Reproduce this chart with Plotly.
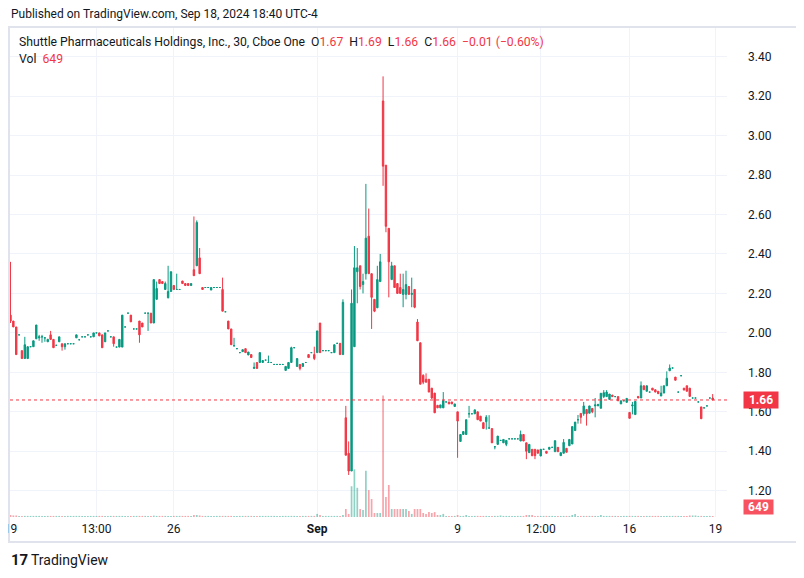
import plotly.graph_objects as go

# ---- data (SHPH, 30-min bars, Aug 19 - Sep 18 2024) ----
open_ = [
    2.09, 2.06, 2.03, 1.99, 1.91, 1.87, 1.87, 1.93, 1.93, 1.97,
    1.975, 1.98, 1.975, 1.955, 1.99, 1.967, 1.937, 1.955, 1.945, 1.93,
    1.945, 1.945, 1.945, 1.975, 1.965, 1.98, 1.98, 1.99, 1.98, 1.98,
    2.00, 2.00, 1.99, 1.955, 2.01, 1.98, 1.98, 1.928, 1.928, 1.928,
    2.03, 2.10, 2.09, 2.02, 2.02, 2.06, 2.05, 2.10, 2.10, 2.10,
    2.05, 2.17, 2.27, 2.26, 2.22, 2.178, 2.21, 2.24, 2.22, 2.22,
    2.263, 2.25, 2.25, 2.24, 2.32, 2.34, 2.38, 2.23, 2.23, 2.23,
    2.217, 2.23, 2.23, 2.23, 2.22, 2.107, 2.06, 2.02, 1.935, 1.92,
    1.90, 1.905, 1.92, 1.888, 1.89, 1.82, 1.85, 1.85, 1.85, 1.862,
    1.85, 1.85, 1.84, 1.84, 1.84, 1.84, 1.81, 1.82, 1.85, 1.925,
    1.83, 1.84, 1.83, 1.85, 1.89, 1.90, 1.89, 1.90, 2.05, 1.91,
    1.91, 1.91, 1.90, 1.90, 1.947, 1.947, 1.89, 1.57, 1.39, 1.30,
    1.93, 2.31, 2.34, 2.245, 2.30, 2.49, 2.30, 2.17, 2.127, 2.26,
    3.175, 2.85, 2.53, 2.27, 2.34, 2.25, 2.23, 2.195, 2.195, 2.235,
    2.195, 2.22, 2.055, 1.95, 1.785, 1.765, 1.765, 1.72, 1.695, 1.633,
    1.62, 1.62, 1.65, 1.65, 1.65, 1.627, 1.60, 1.45, 1.485, 1.485,
    1.59, 1.59, 1.59, 1.60, 1.578, 1.545, 1.55, 1.518, 1.515, 1.423,
    1.435, 1.455, 1.443, 1.435, 1.463, 1.463, 1.463, 1.463, 1.452, 1.485,
    1.443, 1.393, 1.41, 1.41, 1.407, 1.376, 1.41, 1.40, 1.41, 1.42,
    1.398, 1.42, 1.378, 1.39, 1.415, 1.428, 1.437, 1.505, 1.56, 1.592,
    1.59, 1.612, 1.593, 1.617, 1.63, 1.63, 1.618, 1.677, 1.677, 1.663,
    1.685, 1.677, 1.677, 1.64, 1.656, 1.648, 1.597, 1.63, 1.586, 1.678,
    1.67, 1.732, 1.704, 1.70, 1.72, 1.712, 1.704, 1.68, 1.695, 1.732,
    1.808, 1.822, 1.776, 1.70, 1.783, 1.72, 1.732, 1.72, 1.67, 1.67,
    1.65, 1.625, 1.62, 1.63, 1.67, 1.67,
]
high = [
    2.36, 2.06, 2.03, 1.99, 1.91, 1.98, 1.93, 1.93, 1.96, 2.04,
    1.99, 1.99, 1.975, 1.97, 2.01, 1.967, 1.937, 1.98, 1.945, 1.945,
    1.945, 1.945, 1.945, 1.99, 1.965, 1.98, 1.98, 1.99, 1.98, 2.00,
    2.00, 2.00, 1.99, 2.00, 2.01, 1.98, 1.98, 1.928, 1.967, 2.09,
    2.03, 2.10, 2.09, 2.02, 2.02, 2.06, 2.05, 2.10, 2.10, 2.10,
    2.27, 2.26, 2.27, 2.26, 2.26, 2.34, 2.31, 2.24, 2.30, 2.22,
    2.263, 2.25, 2.25, 2.25, 2.59, 2.57, 2.43, 2.23, 2.23, 2.23,
    2.23, 2.23, 2.23, 2.23, 2.28, 2.107, 2.06, 2.02, 1.975, 1.92,
    1.90, 1.915, 1.92, 1.903, 1.89, 1.85, 1.85, 1.90, 1.86, 1.862,
    1.885, 1.85, 1.84, 1.84, 1.84, 1.84, 1.83, 1.85, 1.93, 1.925,
    1.87, 1.84, 1.845, 1.85, 1.89, 1.90, 1.93, 2.01, 2.05, 1.91,
    1.91, 1.91, 1.90, 1.94, 1.947, 1.947, 2.17, 1.63, 1.45, 2.22,
    2.44, 2.43, 2.34, 2.30, 2.755, 2.63, 2.30, 2.17, 2.34, 2.40,
    3.30, 2.85, 2.53, 2.36, 2.34, 2.25, 2.30, 2.30, 2.315, 2.235,
    2.28, 2.22, 2.07, 1.95, 1.79, 1.795, 1.765, 1.72, 1.695, 1.633,
    1.635, 1.70, 1.65, 1.65, 1.65, 1.64, 1.60, 1.485, 1.50, 1.56,
    1.63, 1.59, 1.61, 1.60, 1.578, 1.545, 1.583, 1.583, 1.515, 1.423,
    1.477, 1.455, 1.46, 1.455, 1.463, 1.463, 1.463, 1.463, 1.505, 1.485,
    1.443, 1.435, 1.41, 1.41, 1.407, 1.41, 1.41, 1.40, 1.42, 1.42,
    1.454, 1.42, 1.393, 1.462, 1.415, 1.46, 1.525, 1.548, 1.584, 1.592,
    1.65, 1.612, 1.63, 1.618, 1.67, 1.638, 1.694, 1.71, 1.71, 1.69,
    1.685, 1.677, 1.677, 1.656, 1.656, 1.668, 1.597, 1.65, 1.653, 1.678,
    1.754, 1.732, 1.732, 1.70, 1.72, 1.712, 1.704, 1.732, 1.732, 1.805,
    1.84, 1.822, 1.776, 1.70, 1.783, 1.72, 1.732, 1.72, 1.67, 1.67,
    1.65, 1.625, 1.62, 1.63, 1.67, 1.69,
]
low = [
    2.05, 2.03, 1.89, 1.99, 1.87, 1.87, 1.87, 1.93, 1.93, 1.97,
    1.96, 1.95, 1.955, 1.955, 1.967, 1.925, 1.937, 1.955, 1.91, 1.915,
    1.945, 1.945, 1.945, 1.975, 1.965, 1.98, 1.98, 1.99, 1.98, 1.98,
    2.00, 1.985, 1.925, 1.955, 2.01, 1.98, 1.93, 1.928, 1.928, 1.928,
    2.03, 2.10, 2.056, 2.02, 2.02, 1.95, 2.03, 2.10, 2.01, 2.05,
    2.05, 2.17, 2.25, 2.25, 2.22, 2.175, 2.21, 2.22, 2.22, 2.22,
    2.25, 2.24, 2.24, 2.24, 2.29, 2.34, 2.30, 2.22, 2.23, 2.23,
    2.217, 2.23, 2.23, 2.23, 2.11, 2.107, 2.02, 1.94, 1.93, 1.92,
    1.90, 1.905, 1.90, 1.888, 1.875, 1.82, 1.82, 1.85, 1.85, 1.862,
    1.85, 1.85, 1.84, 1.84, 1.84, 1.84, 1.81, 1.82, 1.85, 1.925,
    1.83, 1.81, 1.83, 1.85, 1.875, 1.90, 1.862, 1.90, 1.90, 1.91,
    1.91, 1.91, 1.90, 1.90, 1.947, 1.89, 1.89, 1.38, 1.28, 1.30,
    1.93, 2.15, 2.22, 2.20, 2.27, 2.30, 2.02, 2.105, 2.127, 2.26,
    2.745, 2.51, 2.18, 2.27, 2.23, 2.20, 2.20, 2.13, 2.17, 2.195,
    2.13, 2.125, 1.96, 1.74, 1.74, 1.75, 1.70, 1.665, 1.595, 1.62,
    1.62, 1.62, 1.65, 1.64, 1.64, 1.627, 1.367, 1.45, 1.485, 1.485,
    1.57, 1.59, 1.59, 1.56, 1.553, 1.515, 1.51, 1.515, 1.443, 1.41,
    1.435, 1.455, 1.443, 1.426, 1.463, 1.463, 1.463, 1.463, 1.452, 1.452,
    1.36, 1.393, 1.375, 1.36, 1.39, 1.376, 1.41, 1.39, 1.41, 1.42,
    1.398, 1.398, 1.378, 1.39, 1.395, 1.428, 1.437, 1.505, 1.54, 1.54,
    1.58, 1.53, 1.593, 1.593, 1.572, 1.63, 1.618, 1.67, 1.677, 1.663,
    1.677, 1.677, 1.656, 1.64, 1.656, 1.648, 1.567, 1.587, 1.586, 1.67,
    1.67, 1.712, 1.704, 1.70, 1.71, 1.70, 1.692, 1.68, 1.695, 1.732,
    1.808, 1.822, 1.76, 1.70, 1.783, 1.71, 1.704, 1.678, 1.67, 1.67,
    1.65, 1.565, 1.62, 1.63, 1.67, 1.66,
]
close = [
    2.06, 2.03, 1.89, 1.99, 1.87, 1.94, 1.93, 1.93, 1.96, 2.04,
    1.98, 1.98, 1.975, 1.967, 1.967, 1.925, 1.937, 1.98, 1.93, 1.945,
    1.945, 1.945, 1.945, 1.99, 1.965, 1.98, 1.98, 1.99, 1.98, 2.00,
    2.00, 1.985, 1.925, 2.00, 2.01, 1.98, 1.945, 1.928, 1.967, 2.09,
    2.03, 2.10, 2.056, 2.02, 2.02, 1.99, 2.03, 2.10, 2.10, 2.05,
    2.27, 2.225, 2.25, 2.25, 2.25, 2.21, 2.31, 2.22, 2.22, 2.22,
    2.25, 2.24, 2.24, 2.25, 2.29, 2.56, 2.30, 2.22, 2.23, 2.23,
    2.23, 2.23, 2.23, 2.23, 2.11, 2.107, 2.02, 1.94, 1.935, 1.92,
    1.90, 1.915, 1.90, 1.903, 1.875, 1.825, 1.82, 1.90, 1.86, 1.862,
    1.85, 1.85, 1.84, 1.84, 1.84, 1.84, 1.83, 1.85, 1.925, 1.925,
    1.87, 1.82, 1.845, 1.85, 1.875, 1.90, 1.87, 2.01, 1.90, 1.91,
    1.91, 1.91, 1.90, 1.94, 1.947, 1.89, 2.155, 1.38, 1.30, 2.15,
    2.33, 2.33, 2.235, 2.26, 2.48, 2.30, 2.18, 2.11, 2.27, 2.36,
    2.845, 2.54, 2.36, 2.34, 2.23, 2.20, 2.20, 2.22, 2.245, 2.195,
    2.20, 2.13, 1.96, 1.74, 1.75, 1.75, 1.70, 1.67, 1.595, 1.62,
    1.635, 1.657, 1.65, 1.64, 1.64, 1.64, 1.553, 1.485, 1.50, 1.56,
    1.59, 1.59, 1.61, 1.56, 1.553, 1.515, 1.573, 1.518, 1.443, 1.423,
    1.477, 1.455, 1.46, 1.455, 1.463, 1.463, 1.463, 1.463, 1.485, 1.452,
    1.40, 1.435, 1.378, 1.378, 1.39, 1.41, 1.41, 1.39, 1.42, 1.42,
    1.454, 1.398, 1.393, 1.445, 1.395, 1.46, 1.525, 1.548, 1.56, 1.572,
    1.63, 1.59, 1.63, 1.60, 1.635, 1.638, 1.694, 1.697, 1.70, 1.69,
    1.677, 1.677, 1.656, 1.656, 1.656, 1.668, 1.567, 1.635, 1.653, 1.67,
    1.732, 1.712, 1.732, 1.70, 1.71, 1.70, 1.692, 1.695, 1.732, 1.77,
    1.822, 1.822, 1.76, 1.70, 1.783, 1.71, 1.704, 1.678, 1.67, 1.67,
    1.65, 1.565, 1.62, 1.63, 1.67, 1.66,
]
volume = [
    1300, 1000, 1000, 700, 700, 700, 700, 700, 700, 700,
    700, 700, 700, 700, 700, 700, 700, 700, 700, 700,
    700, 700, 700, 700, 700, 700, 700, 700, 700, 700,
    700, 700, 700, 700, 700, 700, 700, 700, 700, 700,
    700, 700, 700, 700, 700, 700, 700, 700, 700, 700,
    900, 700, 700, 700, 700, 700, 700, 700, 700, 700,
    700, 700, 700, 700, 1300, 1300, 1000, 700, 700, 700,
    700, 700, 700, 700, 700, 700, 700, 700, 700, 700,
    700, 700, 700, 700, 700, 700, 700, 700, 700, 700,
    700, 700, 700, 700, 700, 700, 700, 700, 700, 700,
    700, 700, 700, 700, 700, 700, 700, 2000, 1300, 700,
    700, 700, 700, 700, 700, 700, 1300, 5200, 2000, 20000,
    31000, 19000, 5200, 4500, 30000, 17500, 11700, 2600, 2600, 2600,
    79000, 13000, 20800, 5200, 5200, 5200, 5200, 5200, 5200, 3900,
    2000, 5200, 5200, 5200, 2600, 2000, 3200, 2600, 3200, 1300,
    1300, 2000, 700, 700, 700, 700, 1300, 700, 700, 1300,
    700, 700, 700, 700, 700, 700, 700, 700, 700, 700,
    700, 1000, 700, 700, 700, 700, 700, 700, 700, 700,
    1300, 1300, 1300, 700, 700, 700, 700, 700, 700, 700,
    700, 700, 700, 700, 700, 700, 1300, 2000, 700, 700,
    700, 700, 700, 700, 700, 700, 1300, 700, 700, 700,
    700, 700, 700, 700, 700, 700, 700, 700, 700, 700,
    700, 700, 700, 700, 700, 700, 700, 700, 700, 700,
    700, 700, 700, 700, 700, 700, 700, 1000, 1000, 1000,
    700, 700, 700, 700, 700, 649,
]
assert len(open_) == len(high) == len(low) == len(close) == len(volume), (
    len(open_), len(high), len(low), len(close), len(volume))

tick_index = [0, 30, 57, 107, 156, 185, 216, 246]
tick_text = ["19", "13:00", "26", "<b>Sep</b>", "9", "12:00", "16", "19"]
price_ticks = [1.20, 1.40, 1.60, 1.80, 2.00, 2.20, 2.40, 2.60, 2.80, 3.00, 3.20, 3.40]
last_price = 1.66
last_volume = 649

GREEN = "#089981"
RED = "#F23645"
TEXT = "#131722"
GRID = "#f0f3fa"
FONT = "Roboto, 'Liberation Sans', sans-serif"

# page has an 8px body margin: figure is drawn 8px right / down
OFF = 8
W, H = 804 - OFF, 578 - OFF
# plot-area box in page pixels
L, R, T, B = 10, 727, 28, 517
def px(x):
    return (x - L) / (R - L)
def py(y):
    return (B - y) / (B - T)

idx = list(range(len(close)))
up = [i for i in idx if close[i] >= open_[i]]
dn = [i for i in idx if close[i] < open_[i]]

fig = go.Figure()

fig.add_trace(go.Bar(
    x=idx, y=volume, yaxis="y",
    marker=dict(color=["rgba(8,153,129,0.45)" if close[i] >= open_[i] else "rgba(242,54,69,0.45)" for i in idx],
                line=dict(width=0)),
    width=0.6, hoverinfo="skip", showlegend=False,
))

for sel, col in ((up, GREEN), (dn, RED)):
    fig.add_trace(go.Candlestick(
        x=sel,
        open=[open_[i] for i in sel], high=[high[i] for i in sel],
        low=[low[i] for i in sel], close=[close[i] for i in sel],
        increasing=dict(line=dict(color=col, width=1), fillcolor=col),
        decreasing=dict(line=dict(color=col, width=1), fillcolor=col),
        whiskerwidth=0, yaxis="y2", hoverinfo="skip", showlegend=False,
    ))

fig.update_layout(
    width=W, height=H,
    margin=dict(l=L - OFF, r=804 - R, t=T - OFF, b=578 - B, autoexpand=False),
    paper_bgcolor="white", plot_bgcolor="white",
    font=dict(family=FONT, size=12, color=TEXT),
    showlegend=False,
    boxgap=0.3,
    xaxis=dict(
        range=[-0.17, 250.0], rangeslider=dict(visible=False),
        tickvals=tick_index, ticktext=tick_text,
        showgrid=True, gridcolor=GRID, gridwidth=1,
        zeroline=False, showline=False, ticks="",
        tickfont=dict(size=12, color=TEXT), ticklabelstandoff=3,
        ticklabeloverflow="allow", automargin=False,
        fixedrange=True,
    ),
    yaxis=dict(range=[0, 318000], visible=False, showgrid=False, fixedrange=True),
    yaxis2=dict(
        overlaying="y", side="right", range=[1.067, 3.545],
        tickvals=price_ticks, ticktext=[f"{v:.2f}" for v in price_ticks],
        showgrid=True, gridcolor=GRID, gridwidth=1,
        zeroline=False, showline=False, ticks="",
        tickfont=dict(size=12, color=TEXT), ticklabelstandoff=20,
        automargin=False, fixedrange=True,
    ),
)

shapes = [
    dict(type="rect", xref="paper", yref="paper",
         x0=px(9), x1=px(797), y0=py(542), y1=py(27),
         line=dict(color="#e0e3eb", width=2), layer="below"),
    dict(type="line", xref="paper", yref="y2", x0=0, x1=1,
         y0=last_price, y1=last_price, line=dict(color=RED, width=1, dash="dot")),
]
fig.update_layout(shapes=shapes)

ann = [
    dict(text="Published on TradingView.com, Sep 18, 2024 18:40 UTC-4",
         x=px(9), y=py(14), xanchor="left", font=dict(size=12, color=TEXT)),
    dict(text=("Shuttle Pharmaceuticals Holdings, Inc., 30, Cboe One  "
               f"O<span style='color:{RED}'>1.67</span>  H<span style='color:{RED}'>1.69</span>  "
               f"L<span style='color:{RED}'>1.66</span>  C<span style='color:{RED}'>1.66</span>  "
               f"<span style='color:{RED}'>−0.01 (−0.60%)</span>"),
         x=px(17), y=py(42), xanchor="left", font=dict(size=12.2, color=TEXT)),
    dict(text=f"Vol  <span style='color:{RED}'>{last_volume}</span>",
         x=px(17), y=py(59), xanchor="left", font=dict(size=12.2, color=TEXT)),
    dict(text=f"<b>{last_price:.2f}</b>", x=px(761), y=py(400), xanchor="center",
         bgcolor=RED, width=32, height=14, borderpad=1,
         font=dict(size=12, color="white")),
    dict(text=f"<b>{last_volume}</b>", x=px(758.5), y=py(507), xanchor="center",
         bgcolor="#f7525f", width=27, height=12, borderpad=1,
         font=dict(size=12, color="white")),
    dict(text="<b>17</b>", x=px(9), y=py(560), xanchor="left", font=dict(size=15, color=TEXT)),
    dict(text="TradingView", x=px(29), y=py(560), xanchor="left", font=dict(size=14, color=TEXT)),
]
for a in ann:
    a.update(xref="paper", yref="paper", yanchor="middle", showarrow=False)
fig.update_layout(annotations=ann)

fig.write_html("out.html")
